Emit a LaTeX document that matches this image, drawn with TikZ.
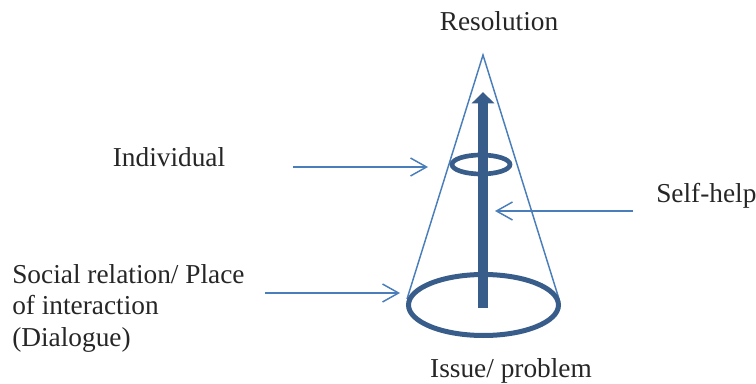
\documentclass[tikz,border=0pt]{standalone}
\usepackage{fontspec}
\setmainfont{Liberation Serif}
\usepackage{tikz}
\usetikzlibrary{arrows.meta,positioning,calc}
\definecolor{coneblue}{RGB}{74,126,187}
\definecolor{axisblue}{RGB}{56,93,138}
\definecolor{labelgray}{RGB}{38,38,38}

\begin{document}
\begin{tikzpicture}[x=0.75pt, y=-0.75pt,
  every node/.style={font=\fontsize{20.5}{23.6}\selectfont, text=labelgray, inner sep=0pt},
  thin arrow/.style={draw=coneblue, line width=1.1pt, -{Straight Barb[length=12pt, width=13.5pt, line width=1.1pt]}}]
\useasboundingbox (0,0) rectangle (756,384);
% cone
\coordinate (apex) at (483,55);
\coordinate (baseleft) at (407,299);
\coordinate (baseright) at (559,299);
\draw[coneblue, line width=1.1pt] (baseleft) -- (apex) -- (baseright);
% rings
\draw[axisblue, line width=3.75pt] (483.5,305) ellipse (75 and 30.5);
\draw[axisblue, line width=3.5pt] (481,164.5) ellipse (29 and 9.5);
% growth axis
\coordinate (axisbot) at (483,308);
\coordinate (axistop) at (483,92);
\draw[axisblue, line width=7.5pt, -{Triangle[length=8.5pt, width=16.5pt]}] (axisbot) -- (axistop);
% labels
\node[anchor=base] (res) at (499,31) {Resolution};
\node[anchor=base] (issue) at (511,377) {Issue/ problem};
\node[anchor=base] (indiv) at (169,167) {Individual};
\node[anchor=base west] (self) at (656,203) {Self-help};
\node[anchor=north west, align=left] (social) at (12,264) {Social relation/ Place\\of interaction\\(Dialogue)};
% pointers
\coordinate (indivfrom) at (293,167);
\coordinate (indivto) at (428,167);
\coordinate (socialfrom) at (265,293);
\coordinate (socialto) at (400,293);
\coordinate (selffrom) at (633,211);
\coordinate (selfto) at (495,211);
\draw[thin arrow] (indivfrom) -- (indivto);
\draw[thin arrow] (socialfrom) -- (socialto);
\draw[thin arrow] (selffrom) -- (selfto);
\end{tikzpicture}
\end{document}
